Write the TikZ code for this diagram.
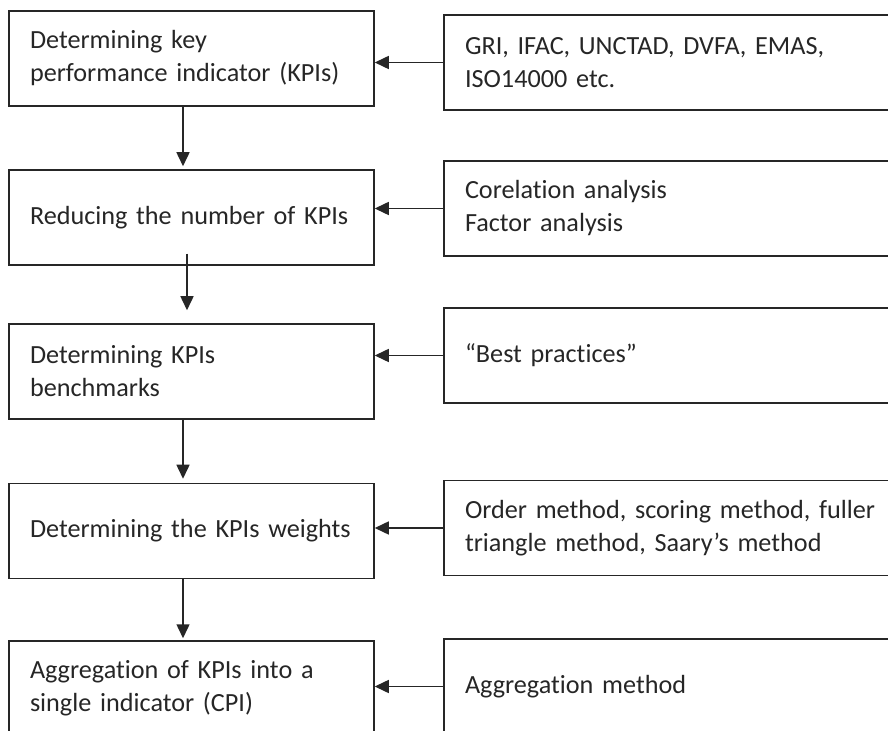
\documentclass[tikz,border=0pt]{standalone}
\usepackage{fontspec}
\setmainfont{Carlito}[Ligatures=NoCommon]
\usetikzlibrary{arrows.meta}
\begin{document}
\begin{tikzpicture}[x=0.5pt,y=-0.5pt,
		stepbox/.style={draw=black!85, line width=0.75pt, minimum width=182.5pt, minimum height=47.5pt,
			text width=161.5pt, align=left, inner sep=0pt, text=black!85, font=\fontsize{13.1}{16.5}\selectfont},
		srcbox/.style={stepbox, minimum width=230pt, text width=209pt},
		flow/.style={-{Triangle[length=7pt,width=6.5pt]}, line width=0.75pt, draw=black!85}]
			\useasboundingbox (0,0) rectangle (888,731);
			\clip (0,0) rectangle (888,731);
			% steps on the left
			\node [stepbox] (b1) at (191.5,58.5) {Determining key\\performance indicator (KPIs)};
			\node [stepbox] (b2) at (191.5,217.5) {Reducing the number of KPIs};
			\node [stepbox] (b3) at (191.5,371.5) {Determining KPIs\\benchmarks};
			\node [stepbox] (b4) at (191.5,531) {Determining the KPIs weights};
			\node [stepbox] (b5) at (191.5,688.5) {Aggregation of KPIs into a\\single indicator (CPI)};
			% sources and methods on the right
			\node [srcbox] (r1) at (674,62.5) {GRI, IFAC, UNCTAD, DVFA, EMAS,\\ISO14000 etc.};
			\node [srcbox] (r2) at (674,208.5) {Corelation analysis\\Factor analysis};
			\node [srcbox] (r3) at (674,355.5) {“Best practices”};
			\node [srcbox] (r4) at (674,528) {Order method, scoring method, fuller\\triangle method, Saary’s method};
			\node [srcbox] (r5) at (674,686.5) {Aggregation method};
			% down the chain
			\draw [flow] ([xshift=-4.25pt]b1.south) -- ([xshift=-4.25pt,yshift=1.5pt]b2.north);
			\draw [flow] ([xshift=-2.25pt,yshift=6pt]b2.south) -- ([xshift=-2.25pt,yshift=6.5pt]b3.north);
			\draw [flow] ([xshift=-4.25pt]b3.south) -- ([xshift=-4.25pt,yshift=2pt]b4.north);
			\draw [flow] ([xshift=-4.25pt]b4.south) -- ([xshift=-4.25pt,yshift=1pt]b5.north);
			% feeds from the right
			\draw [flow] (r1.west) -- (b1.east |- r1.west);
			\draw [flow] (r2.west) -- (b2.east |- r2.west);
			\draw [flow] (r3.west) -- (b3.east |- r3.west);
			\draw [flow] (r4.west) -- (b4.east |- r4.west);
			\draw [flow] (r5.west) -- (b5.east |- r5.west);
		\end{tikzpicture}
\end{document}
